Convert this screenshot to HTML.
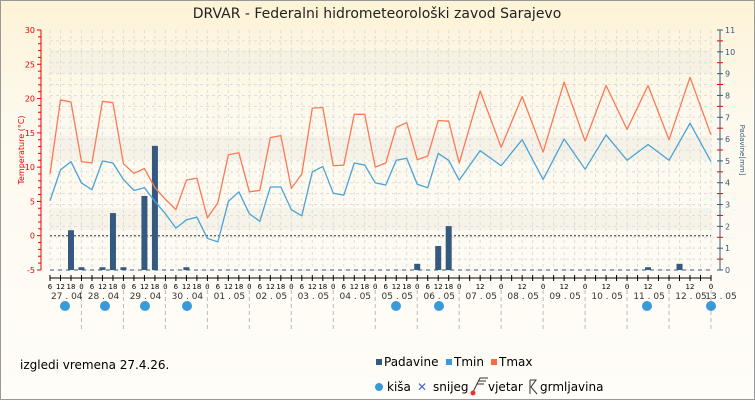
<!DOCTYPE html>
<html><head><meta charset="utf-8"><style>
body{margin:0;width:755px;height:400px;overflow:hidden;font-family:"Liberation Sans","DejaVu Sans",sans-serif}
</style></head><body>
<svg id="s" width="755" height="400" xmlns="http://www.w3.org/2000/svg" font-family="DejaVu Sans, Liberation Sans, sans-serif">
<defs><linearGradient id="bg" x1="0" y1="0" x2="0" y2="1"><stop offset="0" stop-color="#fdf3d6"/><stop offset="0.3" stop-color="#fdf9ee"/><stop offset="1" stop-color="#fffdf8"/></linearGradient></defs>
<rect x="0" y="0" width="755" height="400" fill="url(#bg)"/>
<rect x="0.5" y="0.5" width="754" height="399" fill="none" stroke="#999"/>
<text x="377" y="18" text-anchor="middle" font-size="14" fill="#222">DRVAR - Federalni hidrometeorološki zavod Sarajevo</text>
<g id="g"></g>
<text x="20" y="369" font-size="12" fill="#000">izgledi vremena 27.4.26.</text>
<rect x="376" y="359" width="6" height="6" fill="#355a80"/><text x="384" y="366" font-size="12">Padavine</text>
<rect x="446" y="359" width="6" height="6" fill="#3a9ad9"/><text x="454" y="366" font-size="12">Tmin</text>
<rect x="491" y="359" width="6" height="6" fill="#fa6b42"/><text x="499" y="366" font-size="12">Tmax</text>
<circle cx="379" cy="387" r="4" fill="#3a9ad9"/><text x="387" y="391" font-size="12">kiša</text>
<text x="417" y="391" font-size="12" fill="#4466cc">✕</text><text x="433" y="391" font-size="12">snijeg</text>
<path d="M473 392 L480 378 L488 378 M478 381 L486 381 M477 384 L484 384" stroke="#333" fill="none"/><circle cx="473" cy="393" r="2.5" fill="#e33"/>
<text x="488" y="391" font-size="12">vjetar</text>
<path d="M530 380 L530 394 M530 380 L536 380 L531 387 L537 394" stroke="#333" fill="none"/>
<text x="540" y="391" font-size="12">grmljavina</text>
</svg>
<script>
const g=document.getElementById('g');let h='';
const X0=50,X1=711,st=(X1-X0)/63;
const x=i=>X0+i*st, yT=t=>235.7-t*6.857, yP=m=>270-m*21.818;
[[50,73],[136,160],[208,230]].forEach(b=>h+=`<rect x="${X0}" y="${b[0]}" width="${X1-X0}" height="${b[1]-b[0]}" fill="#efebe0" opacity="0.5"/>`);
for(let i=0;i<=63;i++)h+=`<line x1="${x(i)}" y1="30" x2="${x(i)}" y2="270" stroke="#ddd" stroke-dasharray="3,3"/>`;
for(let k=0;k<22;k++){let y=yP(k*0.5);h+=`<line x1="${X0}" y1="${y}" x2="${X1}" y2="${y}" stroke="#ddd" stroke-dasharray="3,3"/>`;}
h+=`<line x1="${X0}" y1="${yT(0)}" x2="${X1}" y2="${yT(0)}" stroke="#333" stroke-dasharray="2,2"/>`;
h+=`<line x1="41" y1="30" x2="41" y2="270" stroke="#e00"/>`;
for(let t=-5;t<=30;t++){let y=yT(t);h+=`<line x1="${t%5?38:37}" y1="${y}" x2="41" y2="${y}" stroke="#e00"/>`;if(t%5==0)h+=`<text x="35" y="${y+3}" font-size="8" fill="#e00" text-anchor="end">${t}</text>`;}
h+=`<text transform="translate(24,150) rotate(-90)" font-size="8" fill="#e00" text-anchor="middle">Temperature (°C)</text>`;
h+=`<line x1="720" y1="30" x2="720" y2="270" stroke="#355a80"/>`;
for(let k=0;k<=22;k++){let y=yP(k*0.5);h+=`<line x1="717" y1="${y}" x2="723" y2="${y}" stroke="${k%2?'#e00':'#355a80'}"/>`;if(k%2==0)h+=`<text x="725" y="${y+3}" font-size="8" fill="#355a80">${k/2}</text>`;}
h+=`<text transform="translate(740,150) rotate(90)" font-size="7" fill="#355a80" text-anchor="middle">Padavine[mm]</text>`;
h+=`<line x1="${X0}" y1="270" x2="${X1}" y2="270" stroke="#355a80" stroke-dasharray="4,4"/>`;
const bars={2:0.8,3:-4.6,5:-4.6,6:3.3,7:-4.6,9:5.8,10:13.1,13:-4.6,35:-4.1,37:-1.5,38:1.4,57:-4.6,60:-4.1};
for(const i in bars){let y=yT(bars[i]);h+=`<rect x="${x(+i)-3}" y="${y}" width="6" height="${270-y}" fill="#355a80"/>`;}
const tmax=[9,19.8,19.5,10.8,10.6,19.6,19.4,10.5,9.1,9.8,7,5.3,3.8,8.1,8.4,2.6,4.8,11.8,12.1,6.4,6.6,14.3,14.6,6.9,9,18.6,18.7,10.2,10.3,17.7,17.7,10,10.6,15.8,16.5,11.1,11.6,16.8,16.7,10.6];
const tmin=[5.1,9.6,10.8,7.7,6.7,10.9,10.6,8.2,6.6,7,5,3.2,1.1,2.3,2.7,-0.4,-0.9,5,6.4,3.2,2.1,7.1,7.1,3.8,2.9,9.3,10.1,6.2,5.9,10.6,10.3,7.7,7.4,11,11.3,7.5,7,12,11,8.1];
const tx2=[21.1,12.9,20.3,12.2,22.4,13.8,21.9,15.5,21.9,14,23.1,14.7],tn2=[12.4,10.2,14,8.2,14.1,9.7,14.7,11,13.3,11,16.4,10.8];
function line(a,b,c){let p=a.map((t,i)=>x(i)+','+yT(t));b.forEach((t,j)=>p.push(x(41+2*j)+','+yT(t)));h+=`<polyline points="${p.join(' ')}" fill="none" stroke="${c}" stroke-width="1.3" stroke-linejoin="round"/>`;}
line(tmax,tx2,'#fa7a55');line(tmin,tn2,'#4aa3d6');
h+=`<line x1="${X0}" y1="278" x2="${X1}" y2="278" stroke="#000"/>`;
const days=['27','28','29','30','01','02','03','04','05','06','07','08','09','10','11','12','13'];
const mon=['04','04','04','04','05','05','05','05','05','05','05','05','05','05','05','05','05'];
for(let i=0;i<=63;i++){let xx=x(i),hr=((i+1)%4)*6;h+=`<line x1="${xx}" y1="275" x2="${xx}" y2="281" stroke="#000"/>`;
 if(i<40||hr%12==0)h+=`<text x="${xx}" y="289" font-size="7" text-anchor="middle">${hr}</text>`;
 if(hr==0)h+=`<line x1="${xx}" y1="283" x2="${xx}" y2="330" stroke="#bbb" stroke-dasharray="4,3"/>`;}
for(let d=0;d<17;d++){let xc=x(d*4-1)+ (d==16?10:22);h+=`<text x="${d==0?x(1.6):xc}" y="299" font-size="9" text-anchor="middle" fill="#333">${days[d]} . ${mon[d]}</text>`;}
[65,105,145,187,396,439,647,711].forEach(c=>h+=`<circle cx="${c}" cy="306" r="5" fill="#3a9ad9"/>`);
g.innerHTML=h;
</script>
</body></html>
